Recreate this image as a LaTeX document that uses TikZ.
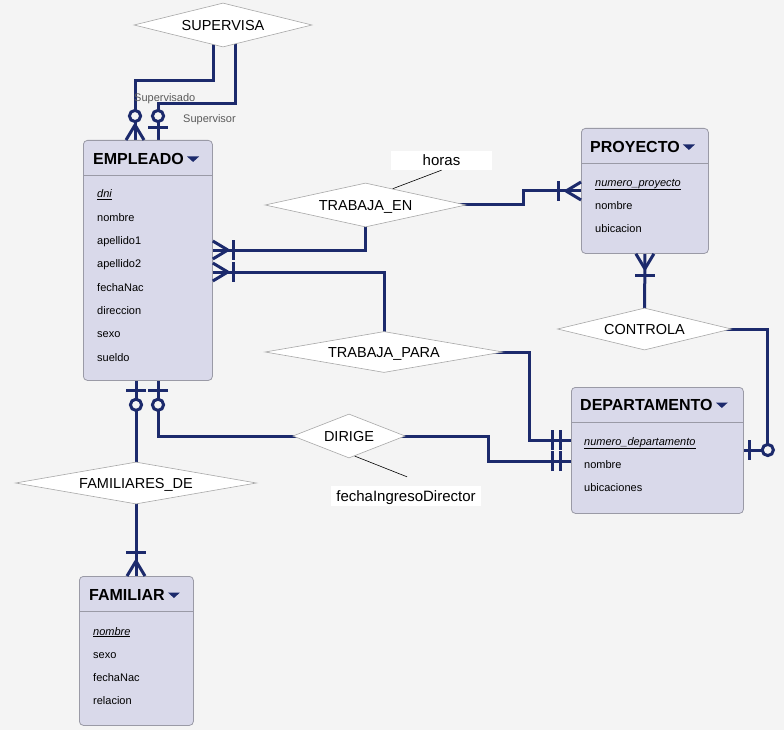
\documentclass[tikz,border=0pt]{standalone}
\usepackage{fontspec}
\setmainfont{Liberation Sans}
\usetikzlibrary{shapes.geometric,calc}
\definecolor{navy}{HTML}{1C2A6C}
\definecolor{bgc}{HTML}{F4F4F4}
\definecolor{entfill}{HTML}{D9D9EA}
\definecolor{entline}{HTML}{9A9AA6}
\definecolor{relline}{HTML}{A8A8A8}
\definecolor{rolegray}{HTML}{5A5A5A}
\pgfdeclarelayer{bg}
\pgfsetlayers{bg,main}

\begin{document}
\begin{tikzpicture}[x=1pt,y=-1pt,
  conn/.style={draw=navy, line width=3pt},
  entity/.style={draw=entline, fill=entfill, rounded corners=4pt, line width=0.8pt,
    anchor=north west, inner sep=0pt},
  sepline/.style={draw=entline, line width=0.8pt},
  rel/.style={diamond, shape aspect=6, draw=relline, fill=white, line width=0.6pt, inner sep=0pt,
    font=\fontsize{14.5}{17}\selectfont, text height=10.4pt, text depth=0pt},
  etitle/.style={font=\fontsize{16}{18}\selectfont\bfseries, inner sep=0pt, anchor=west,
    text height=11.5pt, text depth=0pt},
  attr/.style={font=\fontsize{11}{13}\selectfont, inner sep=0pt, anchor=base west},
  rolelbl/.style={font=\fontsize{11}{13}\selectfont, text=rolegray, inner sep=0pt, anchor=base west},
  attlbl/.style={fill=white, inner sep=0pt, font=\fontsize{15}{17}\selectfont,
    text height=11pt, text depth=0pt},
  leader/.style={draw=black, line width=0.6pt},
  pics/crowfoot/.style={code={
    \draw[conn] (0,-9) -- (15,0);
    \draw[conn] (0,9) -- (15,0);}},
  pics/bar/.style={code={\draw[conn] (#1,-10) -- (#1,10);}},
  pics/ring/.style={code={\draw[conn, fill=bgc] (#1,0) circle[radius=5.6];}},
]
\useasboundingbox (0,0) rectangle (784,730);
\begin{pgfonlayer}{bg}
  \fill[bgc] (0,0) rectangle (784,730);
\end{pgfonlayer}

% ---------- entities ----------
\node[entity, minimum width=129pt, minimum height=240pt] (emp) at (83,140) {};
\draw[sepline] ($(emp.north west)+(0,35)$) -- ($(emp.north east)+(0,35)$);
\node[etitle] (empT) at (93,159) {EMPLEADO};
\fill[navy] ($(empT.east)+(3,-2.5)$) -- ++(12,0) -- ++(-6,5.5) -- cycle;
\node[attr] (emp1) at (97,198) {\underline{\textit{dni}}};
\node[attr] (emp2) at (97,221.3) {nombre};
\node[attr] (emp3) at (97,244.6) {apellido1};
\node[attr] (emp4) at (97,267.9) {apellido2};
\node[attr] (emp5) at (97,291.2) {fechaNac};
\node[attr] (emp6) at (97,314.5) {direccion};
\node[attr] (emp7) at (97,337.8) {sexo};
\node[attr] (emp8) at (97,361.1) {sueldo};

\node[entity, minimum width=127pt, minimum height=125pt] (proy) at (581,128) {};
\draw[sepline] ($(proy.north west)+(0,35)$) -- ($(proy.north east)+(0,35)$);
\node[etitle] (proyT) at (590,147) {PROYECTO};
\fill[navy] ($(proyT.east)+(3,-2.5)$) -- ++(12,0) -- ++(-6,5.5) -- cycle;
\node[attr] (proy1) at (595,186) {\underline{\textit{numero\_proyecto}}};
\node[attr] (proy2) at (595,209.5) {nombre};
\node[attr] (proy3) at (595,232) {ubicacion};

\node[entity, minimum width=172pt, minimum height=126pt] (dep) at (571,387) {};
\draw[sepline] ($(dep.north west)+(0,35)$) -- ($(dep.north east)+(0,35)$);
\node[etitle] (depT) at (580,405) {DEPARTAMENTO};
\fill[navy] ($(depT.east)+(3,-2.5)$) -- ++(12,0) -- ++(-6,5.5) -- cycle;
\node[attr] (dep1) at (584,445) {\underline{\textit{numero\_departamento}}};
\node[attr] (dep2) at (584,468.5) {nombre};
\node[attr] (dep3) at (584,491) {ubicaciones};

\node[entity, minimum width=114pt, minimum height=149pt] (fam) at (79,576) {};
\draw[sepline] ($(fam.north west)+(0,35)$) -- ($(fam.north east)+(0,35)$);
\node[etitle] (famT) at (89,595) {FAMILIAR};
\fill[navy] ($(famT.east)+(3,-2.5)$) -- ++(12,0) -- ++(-6,5.5) -- cycle;
\node[attr] (fam1) at (93,635) {\underline{\textit{nombre}}};
\node[attr] (fam2) at (93,658) {sexo};
\node[attr] (fam3) at (93,681) {fechaNac};
\node[attr] (fam4) at (93,704) {relacion};

% ---------- relationships ----------
\node[rel, minimum width=178pt, minimum height=44pt] (sup) at (223,25) {SUPERVISA};
\node[rel, minimum width=201pt, minimum height=44pt] (ten) at (365.5,205) {TRABAJA\_EN};
\node[rel, minimum width=238pt, minimum height=41pt] (tpa) at (384,352) {TRABAJA\_PARA};
\node[rel, minimum width=174pt, minimum height=42pt] (ctl) at (644.5,329) {CONTROLA};
\node[rel, minimum width=110pt, minimum height=44pt] (dir) at (349,436) {DIRIGE};
\node[rel, minimum width=241pt, minimum height=42pt] (fde) at (136,483) {FAMILIARES\_DE};

% ---------- attachment points ----------
\coordinate (empT1) at ($(emp.north west)+(52,0)$);
\coordinate (empT2) at ($(emp.north west)+(75,0)$);
\coordinate (empR1) at ($(emp.north east)+(0,110)$);
\coordinate (empR2) at ($(emp.north east)+(0,132)$);
\coordinate (empB1) at ($(emp.south west)+(53,0)$);
\coordinate (empB2) at ($(emp.south west)+(75,0)$);
\coordinate (proyL) at ($(proy.north west)+(0,63)$);
\coordinate (proyB) at (proy.south);
\coordinate (depL1) at ($(dep.north west)+(0,53)$);
\coordinate (depL2) at ($(dep.north west)+(0,74)$);
\coordinate (depR)  at ($(dep.north east)+(0,63)$);
\coordinate (famTop) at ($(fam.north west)+(57,0)$);
\coordinate (supA) at ($(sup.center)+(-10,0)$);
\coordinate (supB) at ($(sup.center)+(12,0)$);

% ---------- connectors ----------
\begin{pgfonlayer}{bg}
  \draw[conn] (supA) |- ($(empT1)+(0,-59)$) -- (empT1);
  \draw[conn] (supB) |- ($(empT2)+(0,-36)$) -- (empT2);
  \draw[conn] (ten.center) |- (empR1);
  \draw[conn] (tpa.center) |- (empR2);
  \draw[conn] (ten.center) -| ($(proyL)+(-58,0)$) -- (proyL);
  \draw[conn] (tpa.center) -| ($(depL1)+(-42,0)$) -- (depL1);
  \draw[conn] (dir.center) -| ($(depL2)+(-83,0)$) -- (depL2);
  \draw[conn] (empB2) |- (dir.center);
  \draw[conn] (empB1) -- (fde.center);
  \draw[conn] (fde.center) -- (famTop);
  \draw[conn] (proyB) -- (ctl.center);
  \draw[conn] (ctl.center) -| ($(depR)+(24,0)$) -- (depR);
\end{pgfonlayer}

% ---------- cardinality marks ----------
\pic[rotate=90] at (empT1) {crowfoot};
\pic[rotate=90] at (empT1) {ring=24};
\pic[rotate=90] at (empT2) {bar=12};
\pic[rotate=90] at (empT2) {ring=24};
\pic at (empR1) {crowfoot};
\pic at (empR1) {bar=21};
\pic at (empR2) {crowfoot};
\pic at (empR2) {bar=21};
\pic[rotate=-90] at (empB1) {bar=10};
\pic[rotate=-90] at (empB1) {ring=24};
\pic[rotate=-90] at (empB2) {bar=10};
\pic[rotate=-90] at (empB2) {ring=24};
\pic[rotate=180] at (proyL) {crowfoot};
\pic[rotate=180] at (proyL) {bar=23};
\pic[rotate=-90] at (proyB) {crowfoot};
\pic[rotate=-90] at (proyB) {bar=22};
\pic[rotate=90] at (famTop) {crowfoot};
\pic[rotate=90] at (famTop) {bar=24};
\pic[rotate=180] at (depL1) {bar=11};
\pic[rotate=180] at (depL1) {bar=19};
\pic[rotate=180] at (depL2) {bar=11};
\pic[rotate=180] at (depL2) {bar=19};
\pic at (depR) {bar=6};
\pic at (depR) {ring=24};

% ---------- role names ----------
\node[rolelbl] (lsd) at (134,102) {Supervisado};
\node[rolelbl] (lsr) at (183,123) {Supervisor};

% ---------- relationship attributes ----------
\node[attlbl, minimum width=101pt, minimum height=19pt] (hrs) at (441.5,160.5) {horas};
\draw[leader] (hrs.south) -- ($(ten.north)!0.27!(ten.east)$);
\node[attlbl, minimum width=150pt, minimum height=20pt] (fid) at (406,496) {fechaIngresoDirector};
\coordinate (fidEnd) at ($(fid.north)+(1,-9)$);
\draw[leader] ($(dir.south)!0.1!(dir.east)$) -- (fidEnd);
\end{tikzpicture}
\end{document}
